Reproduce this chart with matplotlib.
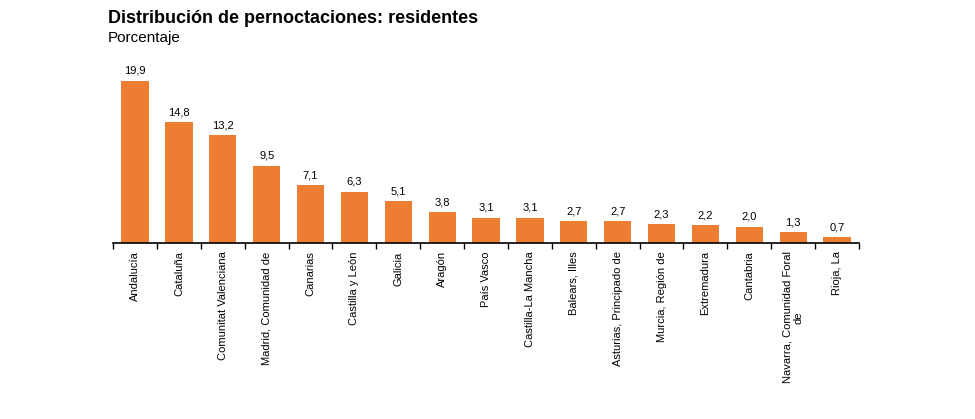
import numpy as np
import matplotlib.pyplot as plt

plt.rcParams['font.family'] = ['Liberation Sans', 'DejaVu Sans']

regiones = ['Andalucía', 'Cataluña', 'Comunitat Valenciana', 'Madrid, Comunidad de',
            'Canarias', 'Castilla y León', 'Galicia', 'Aragón', 'País Vasco',
            'Castilla-La Mancha', 'Balears, Illes', 'Asturias, Principado de',
            'Murcia, Región de', 'Extremadura', 'Cantabria',
            'Navarra, Comunidad Foral\nde', 'Rioja, La']
valores = [19.9, 14.8, 13.2, 9.5, 7.1, 6.3, 5.1, 3.8, 3.1, 3.1, 2.7, 2.7, 2.3, 2.2, 2.0, 1.3, 0.7]

fig = plt.figure(figsize=(9.75, 4.19), dpi=100)
ax = fig.add_axes([0.116, 0.42, 0.765, 0.389])

x = np.arange(len(regiones))
ax.bar(x, valores, width=0.62, color='#ED7D31')
for xi, v in zip(x, valores):
    ax.text(xi, v + 0.6, f'{v:.1f}'.replace('.', ','), ha='center', va='bottom',
            fontsize=8, clip_on=False)

ax.set_xlim(-0.5, len(regiones) - 0.5)
ax.set_ylim(0, 20)
ax.set_yticks([])
for s in ['top', 'right', 'left']:
    ax.spines[s].set_visible(False)
ax.spines['bottom'].set_linewidth(1.2)

ax.set_xticks(x)
ax.set_xticklabels(regiones, rotation=90, fontsize=8, va='top', ha='center',
                   multialignment='center')
ax.tick_params(axis='x', which='major', length=0, pad=6)
ax.set_xticks(np.arange(-0.5, len(regiones), 1), minor=True)
ax.tick_params(axis='x', which='minor', length=4, width=1, direction='out')

fig.text(0.111, 0.955, 'Distribución de pernoctaciones: residentes', fontsize=13,
         fontweight='bold', va='center')
fig.text(0.111, 0.91, 'Porcentaje', fontsize=11, va='center')

fig.savefig('out.png', dpi=100)
